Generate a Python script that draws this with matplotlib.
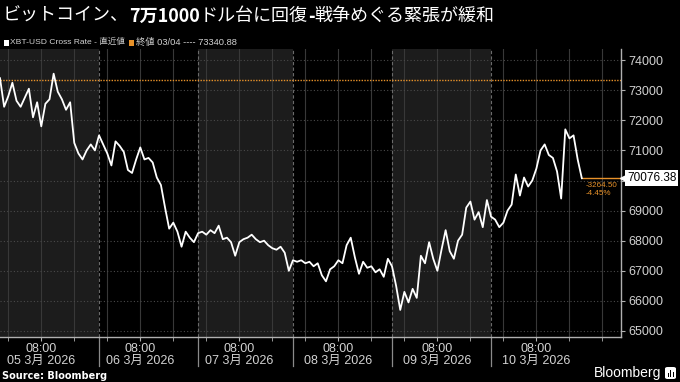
import matplotlib
matplotlib.use("Agg")
import matplotlib.pyplot as plt
import matplotlib.dates as mdates
import matplotlib.transforms as mtransforms
from matplotlib.patches import Rectangle, FancyBboxPatch
import pandas as pd

# hourly XBT-USD cross rate (chart time)
start = "2026-03-04 22:00"
prices = [
    73400, 72450, 72800, 73250, 72650, 72450, 72750, 73050, 72100, 72600,
    71800, 72550, 72700, 73550, 72950, 72700, 72350, 72600, 71250, 70900,
    70700, 71000, 71200, 71000, 71500, 71200, 70900, 70500, 71300, 71150,
    70950, 70350, 70250, 70700, 71100, 70700, 70750, 70600, 70100, 69850,
    69100, 68400, 68600, 68300, 67800, 68300, 68100, 67950, 68250, 68300,
    68200, 68350, 68250, 68500, 68050, 68100, 67950, 67500, 67950, 68050,
    68100, 68200, 68050, 67950, 68000, 67850, 67750, 67700, 67800, 67600,
    67000, 67350, 67300, 67350, 67250, 67300, 67150, 67250, 66850, 66650,
    67050, 67150, 67350, 67250, 67850, 68100, 67450, 66900, 67300, 67100,
    67150, 66950, 67050, 66800, 67400, 67150, 66500, 65700, 66300, 65950,
    66400, 66100, 67500, 67250, 67950, 67400, 67000, 67700, 68350, 67650,
    67400, 68000, 68200, 69100, 69300, 68700, 68950, 68450, 69350, 68800,
    68700, 68450, 68600, 69000, 69200, 70200, 69500, 70100, 69800, 70000,
    70400, 71000, 71200, 70850, 70750, 70300, 69400, 71700, 71400, 71500,
    70700, 70076.38,
]
times = pd.date_range(start, periods=len(prices), freq="h")

prev_close = 73340.88
last_price = 70076.38
change = -3264.50
change_pct = -4.45

day_breaks = ["2026-03-05 22:00", "2026-03-06 22:00", "2026-03-07 21:00",
              "2026-03-08 21:00", "2026-03-09 21:00"]
label_days = ["2026-03-05", "2026-03-06", "2026-03-07",
              "2026-03-08", "2026-03-09", "2026-03-10"]
y_ticks = [65000, 66000, 67000, 68000, 69000, 70000, 71000, 72000, 73000, 74000]

title_parts = [("ビットコイン、", "normal"), ("7万1000", "bold"),
               ("ドル台に回復", "normal"), ("-", "bold"),
               ("戦争めぐる緊張が緩和", "normal")]
series_name = "XBT-USD Cross Rate - 直近値"
close_label = "終値 03/04 ---- 73340.88"

ORANGE = "#e8922a"
SHADE = "#1c1c1c"
TICK = "#d2d2d2"
NUM_FONT = ["Liberation Sans", "Noto Sans CJK JP"]
CJK_FONT = ["Noto Sans CJK JP", "DejaVu Sans"]

fig = plt.figure(figsize=(6.8, 3.82), dpi=100, facecolor="black")
ax = fig.add_axes([0, 45 / 382, 621 / 680, 288 / 382])
ax.set_facecolor("black")

t = mdates.date2num(times)
x_min = mdates.date2num(pd.Timestamp(start))
x_max = mdates.date2num(pd.Timestamp(start) + pd.Timedelta(hours=150.5))
breaks = [mdates.date2num(pd.Timestamp(b)) for b in day_breaks]

# alternating day shading
edges = [x_min] + breaks + [x_max]
for i in range(len(edges) - 1):
    if i % 2 == 0:
        ax.axvspan(edges[i], edges[i + 1], color=SHADE, lw=0, zorder=0)
for b in breaks:
    ax.axvline(b, color="#6a6a6a", lw=0.8, ls=(0, (3, 2)), zorder=1)
    ax.plot([b, b], [0, -0.1], color="#8a8a8a", lw=0.9,
            transform=ax.get_xaxis_transform(), clip_on=False)

# grid
grid_times = pd.date_range("2026-03-05 00:00", "2026-03-11 00:00", freq="8h")
for g in mdates.date2num(grid_times):
    ax.axvline(g, color="#383838", lw=0.8, zorder=1)
for y in y_ticks:
    ax.axhline(y, color="#4a4a4a", lw=0.8, ls=(0, (1, 2)), zorder=1)

ax.axhline(prev_close, color=ORANGE, lw=1.0, ls=(0, (1, 1)), zorder=2)
ax.plot(t, prices, color="white", lw=1.3, zorder=3)
ax.plot([t[-1], x_max], [last_price, last_price], color=ORANGE, lw=1.0, zorder=2)
ax.annotate(f"{change:.2f}\n{change_pct:.2f}%", xy=(t[-1], last_price),
            xytext=(3, -3), textcoords="offset points", ha="left", va="top",
            fontsize=5.8, color=ORANGE, family=NUM_FONT, linespacing=1.1)

ax.set_xlim(x_min, x_max)
ax.set_ylim(64800, 74370)

# axes styling
for s in ["top", "left"]:
    ax.spines[s].set_visible(False)
for s in ["bottom", "right"]:
    ax.spines[s].set_color("#b0b0b0")
    ax.spines[s].set_linewidth(1.0)

ax.yaxis.tick_right()
ax.set_yticks(y_ticks)
# the 70000 label sits under the last-value tag
ax.set_yticklabels(["" if v == 70000 else str(v) for v in y_ticks])
ax.tick_params(axis="y", colors="#b0b0b0", labelcolor=TICK, length=3,
               pad=2, labelsize=9)
for lab in ax.get_yticklabels():
    lab.set_family(NUM_FONT)

label_ticks = [mdates.date2num(pd.Timestamp(d) + pd.Timedelta(hours=8)) for d in label_days]
ax.set_xticks(label_ticks)
ax.set_xticklabels(
    [f"08:00\n{pd.Timestamp(d).strftime('%d')} {pd.Timestamp(d).month}月 2026" for d in label_days]
)
ax.set_xticks(mdates.date2num(grid_times), minor=True)
ax.tick_params(axis="x", which="both", colors="#b0b0b0", labelcolor=TICK,
               length=3, pad=1, labelsize=9)
for lab in ax.get_xticklabels():
    lab.set_family(NUM_FONT)
    lab.set_linespacing(1.0)

# last value tag
trans = mtransforms.blended_transform_factory(ax.transAxes, ax.transData)
ax.plot([1.004], [last_price], marker="<", color="white", ms=5,
        transform=trans, clip_on=False, zorder=6)
ax.text(1.01, last_price, f"{last_price:.2f}", transform=trans, ha="left",
        va="center", fontsize=8.5, color="black", family=NUM_FONT, zorder=7,
        bbox=dict(boxstyle="square,pad=0.15", fc="white", ec="none"))

fig.canvas.draw()
renderer = fig.canvas.get_renderer()

def text_run(x0, y0, parts, **kw):
    # place text pieces one after another, return end position
    x = x0
    for txt, weight in parts:
        tt = fig.text(x, y0, txt, fontweight=weight, va="center", ha="left", **kw)
        x += tt.get_window_extent(renderer).width / fig.bbox.width
    return x

def fit_text(x0, y0, txt, width_px, size, **kw):
    # shrink the font until the text fits the given width
    tt = fig.text(x0, y0, txt, fontsize=size, va="center", ha="left", **kw)
    w = tt.get_window_extent(renderer).width
    if w > width_px:
        tt.set_fontsize(size * width_px / w)
    return tt

# title
text_run(3 / 680, 1 - 16 / 382, title_parts, fontsize=13, color="white",
         family=CJK_FONT)

# legend row
ly = 1 - 42 / 382
legend_font = ["Liberation Sans", "Noto Sans CJK JP"]
fig.add_artist(Rectangle((4 / 680, ly - 3.5 / 382), 5 / 680, 6 / 382,
                         transform=fig.transFigure, fc="white", ec="none"))
fit_text(10 / 680, ly, series_name, 115, 7, color=TICK, family=legend_font)
fig.add_artist(Rectangle((129 / 680, ly - 3.5 / 382), 5 / 680, 6 / 382,
                         transform=fig.transFigure, fc=ORANGE, ec="none"))
fit_text(136 / 680, ly, close_label, 100, 7, color=TICK, family=legend_font)

# footer
fig.text(2 / 680, 6 / 382, "Source: Bloomberg", fontsize=7, fontweight="bold",
         color="white", family="DejaVu Sans", va="center")
fig.text(594 / 680, 9 / 382, "Bloomberg", fontsize=10, color="white",
         family="Liberation Sans", va="center")
fig.add_artist(FancyBboxPatch((665 / 680, 3 / 382), 11 / 680, 12 / 382,
                              boxstyle="round,pad=0,rounding_size=0.004",
                              transform=fig.transFigure, fc="white", ec="none"))
for bx, bh in zip([667.5, 670, 672.5], [4, 7, 5]):
    fig.add_artist(Rectangle((bx / 680, 5 / 382), 1.3 / 680, bh / 382,
                             transform=fig.transFigure, fc="black", ec="none"))

fig.savefig("out.png", dpi=100, facecolor="black")
